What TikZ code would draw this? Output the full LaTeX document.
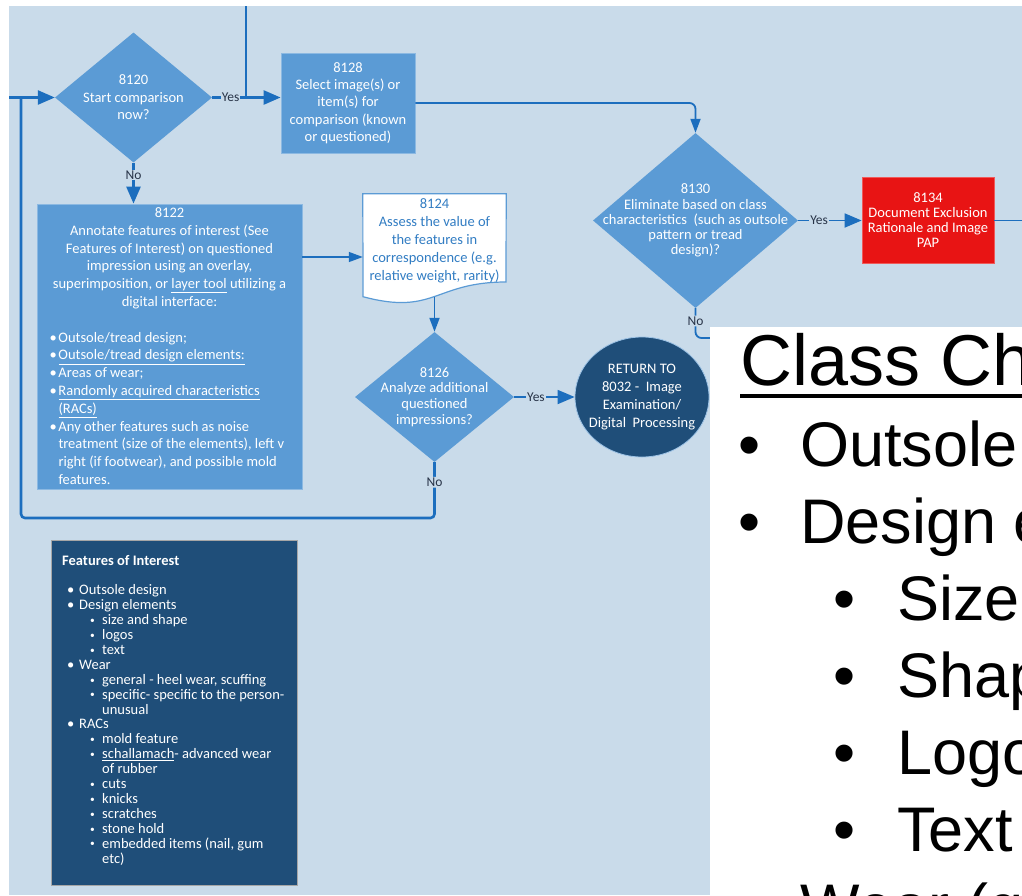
\documentclass[tikz,border=0pt]{standalone}
\usepackage{fontspec}
\usepackage{graphicx}
\setmainfont{Carlito}
\newfontfamily\arialf{Liberation Sans}
\usetikzlibrary{shapes.geometric,arrows.meta}
\definecolor{bgblue}{RGB}{201,219,234}
\definecolor{nodeblue}{RGB}{91,155,213}
\definecolor{lineblue}{RGB}{28,110,190}
\definecolor{navy}{RGB}{31,78,121}
\definecolor{redbox}{RGB}{232,20,20}
\definecolor{doctext}{RGB}{50,125,195}
\definecolor{labeltext}{RGB}{40,52,72}
\newcommand\fiA{\hspace*{5pt}\makebox[12pt][l]{•}}
\newcommand\fiB{\hspace*{28pt}\makebox[12pt][l]{\raisebox{1.2pt}{\scalebox{0.65}{•}}}}
\newcommand\fiC{\hspace*{40pt}}
\newcommand\bulA{\hspace*{10pt}\makebox[9pt][l]{•}}
\newcommand\bulC{\hspace*{19pt}}
\begin{document}
\begin{tikzpicture}[x=1pt,y=-1pt,
  every node/.style={inner sep=0pt},
  txt/.style={text=white, align=center, font=\fontsize{14.5}{17.3}\selectfont},
  diabox/.style 2 args={shape=diamond, fill=nodeblue, draw=none, minimum width=#1, minimum height=#2},
  rectbox/.style={rectangle, fill=nodeblue, draw=nodeblue!70!white, line width=0.8pt},
  lbl/.style={fill=bgblue, text=labeltext, font=\fontsize{13.5}{14}\selectfont, inner sep=1pt},
  linethick/.style={draw=lineblue, line width=2.6pt},
  linemid/.style={draw=lineblue, line width=1.8pt},
  linethin/.style={draw=lineblue, line width=1.3pt},
  bigtip/.style={-{Triangle[length=17pt,width=14pt]}},
  smalltip/.style={-{Triangle[length=14pt,width=10pt]}},
  bigtext/.style={anchor=base west, text=black, font=\arialf\fontsize{63}{70}\selectfont},
  bigbul/.style={anchor=base, text=black, font=\arialf\fontsize{63}{70}\selectfont}
]
\useasboundingbox (0,0) rectangle (1022,895);
\fill[white] (0,0) rectangle (1022,895);
\fill[bgblue] (9,6) rectangle (1022,895);

% ---- nodes
\node[diabox={157pt}{130pt}] (d8120) at (133.5,97.5) {};
\node[txt, font=\fontsize{14.5}{17.5}\selectfont] (t8120) at (d8120) {8120\\Start comparison\\now?};

\node[rectbox, txt, minimum width=134pt, minimum height=100pt] (b8128) at (348,103)
  {8128\\Select image(s) or\\item(s) for\\comparison (known\\or questioned)};

\node[diabox={205pt}{175pt}] (d8130) at (695.5,220.5) {};
\node[txt, font=\fontsize{14.5}{15.2}\selectfont] (t8130) at (d8130)
  {8130\\Eliminate based on class\\characteristics~ (such as outsole\\pattern or tread\\design)?};

\node[rectangle, fill=redbox, draw=redbox!70!white, line width=0.8pt, txt,
      font=\fontsize{14.5}{15}\selectfont, minimum width=132pt, minimum height=86pt] (b8134) at (928,220.5)
  {8134\\Document Exclusion\\Rationale and Image\\PAP};

\node[rectbox, minimum width=265pt, minimum height=285pt] (b8122) at (169.5,346.5) {};
\node[anchor=base, text=white] (t8122) at (169.5,217.5) {\begin{minipage}[t]{260pt}
  \fontsize{14.5}{17.8}\selectfont\centering
  8122\\Annotate features of interest (See\\Features of Interest) on questioned\\impression using an overlay,\\superimposition, or \underline{layer tool} utilizing a\\digital interface:\\\mbox{}\par
  \raggedright
  \bulA Outsole/tread design;\\
  \bulA \underline{Outsole/tread design elements:}\\
  \bulA Areas of wear;\\
  \bulA \underline{Randomly acquired characteristics}\\
  \bulC \underline{(RACs)}\\
  \bulA Any other features such as noise\\
  \bulC treatment (size of the elements), left v\\
  \bulC right (if footwear), and possible mold\\
  \bulC features.
\end{minipage}};

\node[minimum width=143pt, minimum height=103pt] (doc8124) at (434.5,245.5) {};
\draw[fill=white, draw=nodeblue, line width=1.2pt]
  (doc8124.north west) -- (doc8124.north east) -- (506,282)
  .. controls (434.5,282) and (434.5,315.8) .. (363,296.7) -- cycle;
\node[txt, text=doctext, font=\fontsize{14.5}{18}\selectfont] (t8124) at (434.5,241)
  {8124\\Assess the value of\\the features in\\correspondence (e.g.\\relative weight, rarity)};
\coordinate (docB) at (434.5,296.5);

\node[diabox={159pt}{130pt}] (d8126) at (434.5,397) {};
\node[txt, font=\fontsize{14.5}{15.7}\selectfont] (t8126) at (d8126) {8126\\Analyze additional\\questioned\\impressions?};

\node[ellipse, fill=navy, draw=nodeblue!60!white, line width=0.8pt, minimum width=134pt, minimum height=120pt] (ret) at (642,397) {};
\node[txt, font=\fontsize{14.5}{17.7}\selectfont] (tret) at (ret) {RETURN TO\\8032 -~ Image\\Examination/\\Digital~ Processing};

\node[rectangle, fill=navy, draw=gray!70, line width=0.8pt, minimum width=246pt, minimum height=345pt] (foi) at (174,712.5) {};
\node[anchor=base west, text=white] (tfoi) at (62,565) {\begin{minipage}[t]{232pt}
  \fontsize{14.5}{14.9}\selectfont\raggedright
  \textbf{Features of Interest}\\\mbox{}\\
  \fiA Outsole design\\
  \fiA Design elements\\
  \fiB size and shape\\
  \fiB logos\\
  \fiB text\\
  \fiA Wear\\
  \fiB general - heel wear, scuffing\\
  \fiB specific- specific to the person-\\
  \fiC unusual\\
  \fiA RACs\\
  \fiB mold feature\\
  \fiB \underline{schallamach}- advanced wear\\
  \fiC of rubber\\
  \fiB cuts\\
  \fiB knicks\\
  \fiB scratches\\
  \fiB stone hold\\
  \fiB embedded items (nail, gum\\
  \fiC etc)
\end{minipage}};

% ---- connectors
\coordinate (inL) at (9,97.5);
\coordinate (topIn) at (246,6);
\coordinate (loopL) at (21,518);
\coordinate (y257) at (0,257);
\coordinate (outR) at (1022,220.5);
\coordinate (noR) at (760,338);

\draw[linethick, bigtip] (inL) -- (d8120.west);
\draw[linethick] (topIn) -- (topIn |- d8120.east);
\draw[linethick, bigtip] (d8120.east) -- node[lbl, pos=0.27]{Yes} (d8120.east -| b8128.west);
\draw[linethick, bigtip] (d8120.south) -- node[lbl, pos=0.3]{No} (d8120.south |- b8122.north);
\draw[linethick, rounded corners=4pt] (d8126.south) -- node[lbl, pos=0.36]{No} (d8126.south |- loopL) -- (loopL) -- (loopL |- d8120.west);
\draw[linemid, smalltip, rounded corners=6pt] (b8128.east) -| (d8130.north);
\draw[linethin, smalltip] (b8122.east |- y257) -- (doc8124.west |- y257);
\draw[linemid, smalltip] (docB) -- (d8126.north);
\draw[linemid, bigtip] (d8126.east) -- node[lbl, pos=0.36]{Yes} (ret.west);
\draw[linemid, bigtip] (d8130.east) -- node[lbl, pos=0.33]{Yes} (b8134.west);
\draw[linemid] (b8134.east) -- (outR);
\draw[linemid, rounded corners=6pt] (d8130.south) -- node[lbl, pos=0.43]{No} (d8130.south |- noR) -- (noR);

% ---- white panel
\fill[white] (710,327) rectangle (1022,895);
\node[anchor=base west, text=black, font=\arialf\fontsize{72}{80}\selectfont] (ctitle) at (740,385) {Class Ch};
\draw[black, line width=4pt] ([yshift=-10.5pt]ctitle.base west) -- ++(300,0);
\node[bigbul] (p1) at (750,466) {•};
\node[bigtext] (w1) at (800,466) {Outsole};
\node[bigbul] (p2) at (750,543) {•};
\node[bigtext] (w2) at (800,543) {Design e};
\node[bigbul] (p3) at (845,620) {•};
\node[bigtext] (w3) at (897,620) {Size};
\node[bigbul] (p4) at (845,697) {•};
\node[bigtext] (w4) at (897,697) {Shap};
\node[bigbul] (p5) at (845,774) {•};
\node[bigtext] (w5) at (897,774) {Logo};
\node[bigbul] (p6) at (845,851) {•};
\node[bigtext] (w6) at (897,851) {Text};
\node[bigtext] (w7) at (800,928) {Wear (g};
\end{tikzpicture}
\end{document}
